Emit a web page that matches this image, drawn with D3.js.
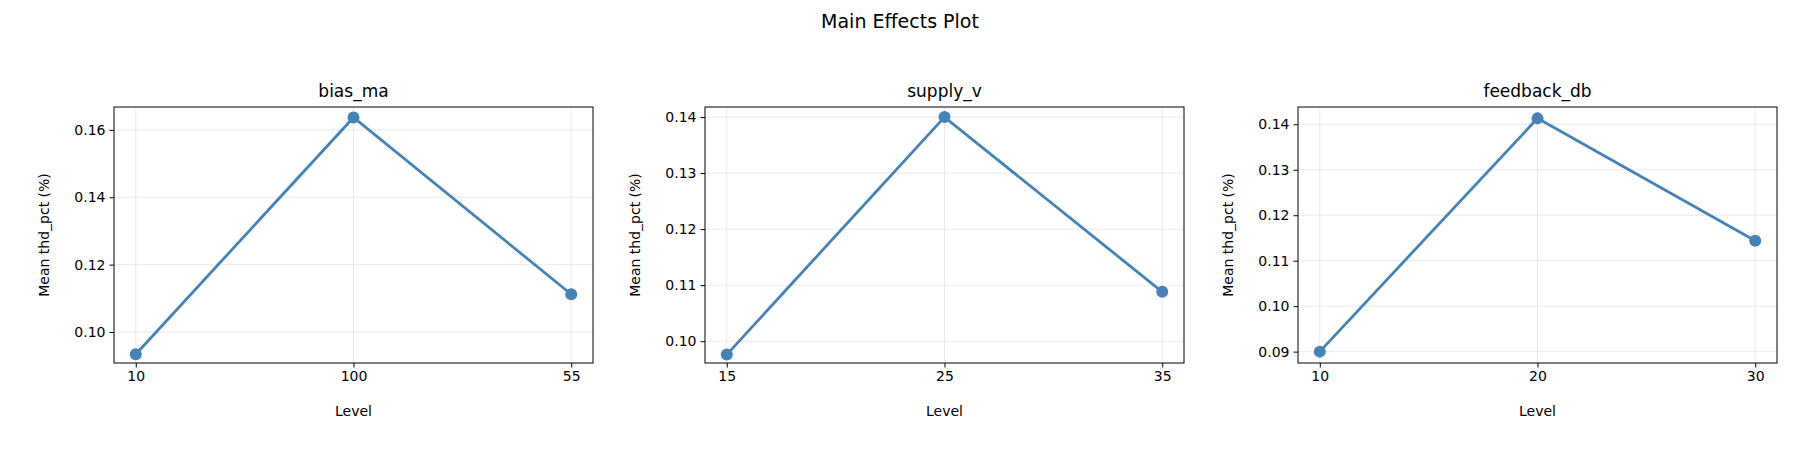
<!DOCTYPE html>
<html>
<head>
<meta charset="utf-8">
<script src="https://cdn.jsdelivr.net/npm/d3@7"></script>
<style>
  body { margin: 0; background: #fff; }
  text { font-family: "DejaVu Sans", sans-serif; fill: #000; }
</style>
</head>
<body>
<svg id="chart" width="1800" height="450"></svg>
<script>
var factors = ["bias_ma", "supply_v", "feedback_db"];
var levels = [["10", "100", "55"], ["15", "25", "35"], ["10", "20", "30"]];
var means = [[0.0934, 0.1637, 0.1112], [0.0976, 0.1400, 0.1088], [0.0900, 0.1413, 0.1144]];
var yDomains = [[0.0908, 0.1668], [0.0961, 0.1418], [0.0875, 0.1438]];
var yTicks = [[0.10, 0.12, 0.14, 0.16], [0.10, 0.11, 0.12, 0.13, 0.14], [0.09, 0.10, 0.11, 0.12, 0.13, 0.14]];

var svg = d3.select("#chart");
var panelLeft = [114, 705, 1298];
var panelW = 479, panelTop = 107, panelH = 256;

svg.append("text").attr("x", 900).attr("y", 28).attr("text-anchor", "middle")
  .style("font-size", "19px").text("Main Effects Plot");

factors.forEach(function(f, i) {
  var g = svg.append("g").attr("transform", `translate(${panelLeft[i]},${panelTop})`);
  var x = d3.scaleLinear().domain([-0.1, 2.1]).range([0, panelW]);
  var y = d3.scaleLinear().domain(yDomains[i]).range([panelH, 0]);

  // grid
  g.selectAll(".gx").data([0, 1, 2]).enter().append("line")
    .attr("x1", d => x(d)).attr("x2", d => x(d)).attr("y1", 0).attr("y2", panelH)
    .attr("stroke", "#b0b0b0").attr("stroke-opacity", 0.3).attr("stroke-width", 0.9);
  g.selectAll(".gy").data(yTicks[i]).enter().append("line")
    .attr("x1", 0).attr("x2", panelW).attr("y1", d => y(d)).attr("y2", d => y(d))
    .attr("stroke", "#b0b0b0").attr("stroke-opacity", 0.3).attr("stroke-width", 0.9);

  var xAxis = g.append("g").attr("transform", `translate(0,${panelH})`)
    .call(d3.axisBottom(x).tickValues([0, 1, 2]).tickFormat(d => levels[i][d]).tickSizeOuter(0).tickSize(4.5).tickPadding(4));
  var yAxis = g.append("g")
    .call(d3.axisLeft(y).tickValues(yTicks[i]).tickFormat(d3.format(".2f")).tickSizeOuter(0).tickSize(4.5).tickPadding(4));
  [xAxis, yAxis].forEach(function(a) {
    a.select(".domain").remove();
    a.selectAll("text").style("font-size", "14px").style("font-family", "DejaVu Sans, sans-serif");
    a.selectAll("line").attr("stroke", "#000");
  });

  g.append("rect").attr("width", panelW).attr("height", panelH)
    .attr("fill", "none").attr("stroke", "#000").attr("stroke-width", 1);

  var line = d3.line().x((d, j) => x(j)).y(d => y(d));
  g.append("path").datum(means[i]).attr("d", line)
    .attr("fill", "none").attr("stroke", "#4682b4").attr("stroke-width", 2.8);
  g.selectAll(".pt").data(means[i]).enter().append("circle")
    .attr("cx", (d, j) => x(j)).attr("cy", d => y(d)).attr("r", 6).attr("fill", "#4682b4");

  g.append("text").attr("x", panelW / 2).attr("y", -10).attr("text-anchor", "middle")
    .style("font-size", "17px").text(f);
  g.append("text").attr("x", panelW / 2).attr("y", panelH + 53).attr("text-anchor", "middle")
    .style("font-size", "14px").text("Level");
  g.append("text").attr("transform", `translate(-65,${panelH / 2}) rotate(-90)`)
    .attr("text-anchor", "middle").style("font-size", "14px").text("Mean thd_pct (%)");
});
</script>
</body>
</html>
